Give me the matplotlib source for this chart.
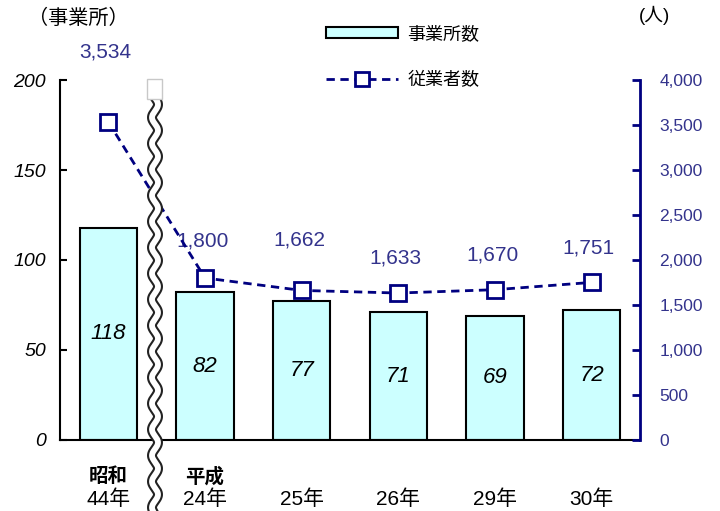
import numpy as np
import matplotlib.pyplot as plt
from matplotlib.patches import Patch, Rectangle
from matplotlib.lines import Line2D

plt.rcParams['font.family'] = ['Liberation Sans', 'Noto Sans CJK JP']

### data
era_labels = ['昭和', '平成', '', '', '', '']
year_labels = ['44年', '24年', '25年', '26年', '29年', '30年']
offices = [118, 82, 77, 71, 69, 72]          # 事業所数
workers = [3534, 1800, 1662, 1633, 1670, 1751]  # 従業者数

navy = '#000080'
lab_col = '#33338C'
bar_col = '#CCFFFF'

fig = plt.figure(figsize=(7.2, 5.11), dpi=100)
W, H = 720, 511
ax = fig.add_axes([60/W, 1 - 440/H, 580/W, 360/H])
ax2 = ax.twinx()

x = np.arange(len(offices))

### bars
ax.bar(x, offices, width=0.59, color=bar_col, edgecolor='black', linewidth=1.5, zorder=2)
for xi, v in zip(x, offices):
    ax.text(xi, v/2, str(v), ha='center', va='center', fontsize=16,
            style='italic', color='black', zorder=3)

ax.set_xlim(-0.5, len(offices) - 0.5)
ax.set_ylim(0, 200)
ax.set_yticks([0, 50, 100, 150, 200])
ax.set_yticklabels(['0', '50', '100', '150', '200'], style='italic', fontsize=14)
ax.tick_params(axis='y', direction='in', length=5, width=1.5, pad=10)
ax.set_xticks([])
for s in ['top', 'right']:
    ax.spines[s].set_visible(False)
ax.spines['left'].set_linewidth(1.5)
ax.spines['bottom'].set_linewidth(1.5)

### line on right axis
ax2.plot(x, workers, color=navy, linestyle=(0, (3, 2)), linewidth=2,
         marker='s', markersize=11, markerfacecolor='white',
         markeredgecolor=navy, markeredgewidth=2, zorder=4)
label_off = [50, 27, 36, 25, 25, 25]  # points above marker
for xi, v, off in zip(x, workers, label_off):
    ax2.annotate(f'{v:,}', (xi, v), xytext=(-2, off), textcoords='offset points',
                 ha='center', va='center', fontsize=15, color=lab_col,
                 annotation_clip=False)
ax2.set_ylim(0, 4000)
ax2.set_yticks(np.arange(0, 4001, 500))
ax2.set_yticklabels([f'{v:,}' for v in range(0, 4001, 500)], fontsize=12.5, color=lab_col)
ax2.tick_params(axis='y', direction='in', length=6, width=2, color=navy, pad=14)
for s in ['top', 'left', 'bottom']:
    ax2.spines[s].set_visible(False)
ax2.spines['right'].set_color(navy)
ax2.spines['right'].set_linewidth(2)
ax2.patch.set_visible(False)

### x labels
for xi, era, yr in zip(x, era_labels, year_labels):
    if era:
        ax.text(xi, -20.5, era, ha='center', va='center', fontsize=14,
                fontweight='bold', clip_on=False)
    ax.text(xi, -33, yr, ha='center', va='center', fontsize=15, clip_on=False)

### axis titles
fig.text(28/W, 1 - 18/H, '（事業所）', ha='left', va='center', fontsize=14.5)
fig.text(655/W, 1 - 15/H, '(人)', ha='center', va='center', fontsize=13.5)

### legend
handles = [Patch(facecolor=bar_col, edgecolor='black', linewidth=1.5),
           Line2D([], [], color=navy, linestyle=(0, (3, 2)), linewidth=2,
                  marker='s', markersize=10, markerfacecolor='white',
                  markeredgecolor=navy, markeredgewidth=2)]
fig.legend(handles, ['事業所数', '従業者数'], loc='upper left',
           bbox_to_anchor=(326/W, 1 - 26/H), frameon=False, fontsize=13,
           handlelength=4.0, handleheight=0.6, labelspacing=1.62,
           handletextpad=0.5, borderaxespad=0, borderpad=0)

### wavy break mark
yy = np.linspace(98, 511, 1200)
xx = 155 + 3 * np.sin(2 * np.pi * (yy - 98) / 26)
wave_x = xx / W
wave_y = 1 - yy / H
fig.add_artist(Line2D(wave_x, wave_y, color='#222222', linewidth=7.2,
                      transform=fig.transFigure, zorder=10))
fig.add_artist(Line2D(wave_x, wave_y, color='white', linewidth=4.2,
                      transform=fig.transFigure, zorder=11))
fig.add_artist(Rectangle((147/W, 1 - 99/H), 15/W, 20/H, facecolor='white',
                         edgecolor='#C8C8C8', linewidth=1,
                         transform=fig.transFigure, zorder=11))

fig.savefig('out.png', dpi=100)
